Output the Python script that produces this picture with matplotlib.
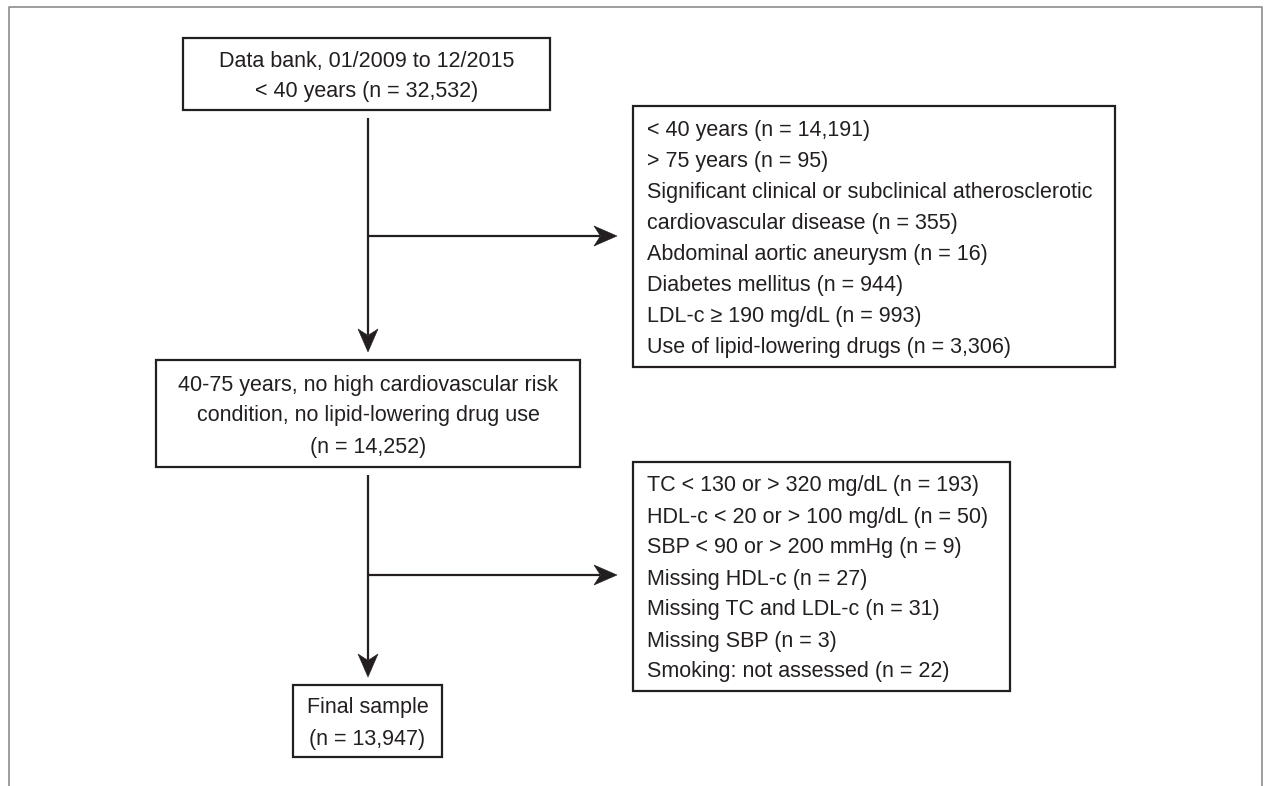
import numpy as np
import matplotlib
matplotlib.use('Agg')
import matplotlib.pyplot as plt
from matplotlib.patches import Rectangle, Polygon

FONT = ['Liberation Sans Narrow', 'Liberation Sans', 'DejaVu Sans']
INK = '#231f20'
PITCH = 31  # line pitch in pixels
FSIZE = 15.5

# --- text content of the flowchart ---
top_lines = ['Data bank, 01/2009 to 12/2015', '< 40 years (n = 32,532)']
excl1_lines = [
    '< 40 years (n = 14,191)',
    '> 75 years (n = 95)',
    'Significant clinical or subclinical atherosclerotic',
    'cardiovascular disease (n = 355)',
    'Abdominal aortic aneurysm (n = 16)',
    'Diabetes mellitus (n = 944)',
    'LDL-c \u2265 190 mg/dL (n = 993)',
    'Use of lipid-lowering drugs (n = 3,306)',
]
mid_lines = ['40-75 years, no high cardiovascular risk',
             'condition, no lipid-lowering drug use',
             '(n = 14,252)']
excl2_lines = [
    'TC < 130 or > 320 mg/dL (n = 193)',
    'HDL-c < 20 or > 100 mg/dL (n = 50)',
    'SBP < 90 or > 200 mmHg (n = 9)',
    'Missing HDL-c (n = 27)',
    'Missing TC and LDL-c (n = 31)',
    'Missing SBP (n = 3)',
    'Smoking: not assessed (n = 22)',
]
final_lines = ['Final sample', '(n = 13,947)']


def draw_box(ax, box, lines, align='center', pad=14):
    x0, y0, x1, y1 = box
    ax.add_patch(Rectangle((x0, y0), x1 - x0, y1 - y0, fill=False,
                           ec=INK, lw=1.6))
    cy = (y0 + y1) / 2
    n = len(lines)
    for i, s in enumerate(lines):
        y = cy + (i - (n - 1) / 2) * PITCH
        if align == 'center':
            x, ha = (x0 + x1) / 2, 'center'
        else:
            x, ha = x0 + pad, 'left'
        ax.text(x, y + 8, s, ha=ha, va='baseline', fontsize=FSIZE,
                family=FONT, color=INK)


def draw_arrow(ax, start, tip, head_len=23, head_w=10):
    start = np.array(start, float)
    tip = np.array(tip, float)
    u = (tip - start) / np.hypot(*(tip - start))
    nrm = np.array([-u[1], u[0]])
    base = tip - u * head_len
    notch = tip - u * head_len * 0.72
    ax.plot([start[0], notch[0]], [start[1], notch[1]], color=INK, lw=1.6,
            solid_capstyle='butt')
    ax.add_patch(Polygon([tip, base + nrm * head_w, notch, base - nrm * head_w],
                         closed=True, fc=INK, ec=INK, lw=0.4))


fig = plt.figure(figsize=(12.64, 7.86), dpi=100)
ax = fig.add_axes([0, 0, 1, 1])
ax.set_xlim(0, 1264)
ax.set_ylim(786, 0)
ax.axis('off')

# outer frame (open at the bottom)
ax.plot([9, 9, 1262, 1262], [786, 7, 7, 786], color='#8c8c8c', lw=1.2)

# boxes: (x0, y0, x1, y1) in pixels
box_top = (183, 38, 550, 110)
box_excl1 = (633, 106, 1115, 367)
box_mid = (156, 360, 580, 467)
box_excl2 = (633, 462, 1010, 691)
box_final = (293, 685, 442, 757)

draw_box(ax, box_top, top_lines)
draw_box(ax, box_excl1, excl1_lines, align='left')
draw_box(ax, box_mid, mid_lines)
draw_box(ax, box_excl2, excl2_lines, align='left')
draw_box(ax, box_final, final_lines)

xc = 368
draw_arrow(ax, (xc, box_top[3] + 8), (xc, box_mid[1] - 8))
draw_arrow(ax, (xc, 236), (box_excl1[0] - 16, 236))
draw_arrow(ax, (xc, box_mid[3] + 8), (xc, box_final[1] - 8))
draw_arrow(ax, (xc, 575), (box_excl2[0] - 16, 575))

fig.savefig('out.png', dpi=100)
